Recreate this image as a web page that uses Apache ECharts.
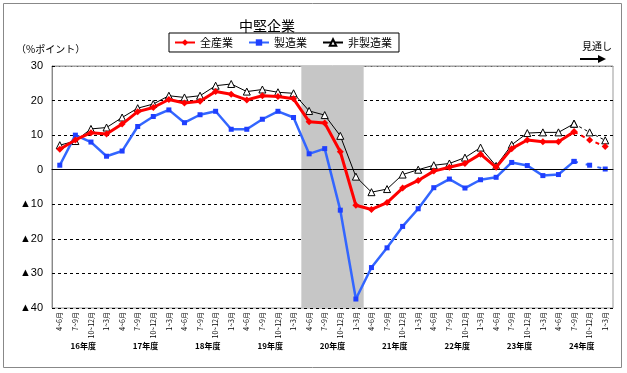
<!DOCTYPE html>
<html><head><meta charset="utf-8">
<script src="https://cdn.jsdelivr.net/npm/echarts@6/dist/echarts.min.js"></script>
<style>html,body{margin:0;padding:0;background:#fff}#c{width:627px;height:373px}</style>
</head><body><div id="c"></div>
<script>
var quarters = [];
var qNames = ["4~6月","7~9月","10~12月","1~3月"];
var years = ["16年度","17年度","18年度","19年度","20年度","21年度","22年度","23年度","24年度"];
years.forEach(function(){ qNames.forEach(function(q){ quarters.push(q); }); });

var allInd = [5.9, 8.6, 10.7, 10.3, 13.2, 16.8, 18.0, 20.3, 19.3, 19.8, 22.6, 21.8, 20.2, 21.4, 21.2, 20.5, 13.9, 13.5, 5.2, -10.3, -11.5, -9.5, -5.3, -3.1, -0.4, 0.7, 1.8, 4.5, 0.7, 6.1, 8.6, 8.1, 8.1, 11.0];
var mfg = [1.3, 10.0, 8.0, 3.9, 5.4, 12.5, 15.4, 17.3, 13.6, 15.9, 16.9, 11.7, 11.7, 14.6, 16.9, 15.1, 4.6, 6.1, -11.7, -37.4, -28.3, -22.6, -16.4, -11.3, -5.2, -2.7, -5.3, -2.9, -2.2, 2.1, 1.2, -1.7, -1.4, 2.4];
var nonMfg = [7.1, 8.3, 11.8, 12.2, 15.1, 17.8, 19.0, 21.4, 20.9, 21.4, 24.3, 24.8, 22.6, 23.2, 22.4, 22.1, 17.0, 15.8, 9.8, -2.0, -6.5, -5.6, -1.4, 0.0, 1.3, 1.8, 3.5, 6.4, 1.1, 7.2, 10.6, 10.8, 10.8, 13.3];
// forecast (見通し): last actual point followed by two outlook points
var allFcst = [11.0, 8.6, 6.7];
var mfgFcst = [2.4, 1.3, 0.2];
var nonMfgFcst = [13.3, 10.8, 8.5];
var fcstStart = 33;
var shadeYears = ["20年度"];
var yMin = -40, yMax = 30;

function pad(arr){ var a = []; for (var i=0;i<fcstStart;i++) a.push(null); return a.concat(arr); }
var shadeUp = years.map(function(y){ return shadeYears.indexOf(y) >= 0 ? yMax : null; });
var shadeDown = years.map(function(y){ return shadeYears.indexOf(y) >= 0 ? yMin : null; });

var FONT = '"Liberation Sans", Arial, "Noto Sans CJK JP", sans-serif';
var JFONT = '"Noto Sans CJK JP", sans-serif';
var chart = echarts.init(document.getElementById('c'));
chart.setOption({
  animation: false,
  backgroundColor: '#fff',
  title: { text: '中堅企業', left: 262, top: 14, textAlign: 'center',
    textStyle: { fontFamily: JFONT, fontSize: 14, fontWeight: 'normal', color: '#000' } },
  legend: {
    data: ['全産業','製造業','非製造業'],
    left: 169, top: 33, padding: [4, 7, 4, 5],
    borderColor: '#000', borderWidth: 1, itemGap: 15,
    itemWidth: 20, itemHeight: 8,
    textStyle: { fontFamily: JFONT, fontSize: 11, color: '#000' }
  },
  grid: { left: 52, right: 14, top: 66, bottom: 65, show: true, borderColor: '#999', borderWidth: 1 },
  graphic: [
    { type: 'rect', shape: { x: 3.5, y: 3.5, width: 618, height: 364 }, style: { fill: 'none', stroke: '#888', lineWidth: 1 } },
    { type: 'text', left: 16, top: 44, style: { text: '（%ポイント）', fontFamily: JFONT, fontSize: 10, fill: '#000' } },
    { type: 'text', left: 582, top: 41, style: { text: '見通し', fontFamily: JFONT, fontSize: 10, fill: '#000' } },
    { type: 'line', shape: { x1: 580, y1: 59, x2: 600, y2: 59 }, style: { stroke: '#000', lineWidth: 2 } },
    { type: 'polygon', shape: { points: [[598, 55], [606, 59], [598, 63]] }, style: { fill: '#000' } }
  ],
  xAxis: [
    { type: 'category', data: quarters, boundaryGap: true, position: 'bottom',
      axisLine: { lineStyle: { color: '#000', width: 1 } },
      axisTick: { interval: 0, length: 29, lineStyle: { color: '#888' } },
      axisLabel: { interval: 0, rotate: 90, fontSize: 7, margin: 4, color: '#000', fontFamily: JFONT },
      splitLine: { show: false } },
    { type: 'category', data: years, boundaryGap: true, position: 'bottom',
      axisLine: { show: false },
      axisTick: { interval: 0, length: 47, lineStyle: { color: '#000' } },
      axisLabel: { interval: 0, fontSize: 8, margin: 34, color: '#000', fontFamily: JFONT, fontWeight: 'bold' },
      splitLine: { show: false } },
    { type: 'category', data: quarters, boundaryGap: true, position: 'top',
      axisLine: { lineStyle: { color: '#999', type: 'dotted' } },
      axisTick: { inside: true, interval: 0, length: 3, lineStyle: { color: '#999' } },
      axisLabel: { show: false } }
  ],
  yAxis: {
    type: 'value', min: yMin, max: yMax, interval: 10,
    axisLine: { show: true, lineStyle: { color: '#888' } },
    axisTick: { show: true, inside: true, length: 3, lineStyle: { color: '#000' } },
    axisLabel: { fontFamily: FONT, fontSize: 11, color: '#000', margin: 9,
      formatter: function(v){ return v < 0 ? '▲' + Math.abs(v) : String(v); } },
    splitLine: { show: true, lineStyle: { color: '#000', type: [3, 3], width: 1 } }
  },
  series: [
    { type: 'bar', xAxisIndex: 1, data: shadeUp, stack: 'sh', barWidth: '100%', silent: true,
      itemStyle: { color: '#c6c6c6' }, z: 1 },
    { type: 'bar', xAxisIndex: 1, data: shadeDown, stack: 'sh', barWidth: '100%', silent: true,
      itemStyle: { color: '#c6c6c6' }, z: 1 },
    { name: '非製造業', type: 'line', data: nonMfg, symbol: 'triangle', symbolSize: 7,
      lineStyle: { color: '#000', width: 1 }, itemStyle: { color: '#fff', borderColor: '#000', borderWidth: 1 }, z: 3,
      markLine: { silent: true, symbol: 'none', label: { show: false },
        lineStyle: { color: '#000', type: 'solid', width: 1 }, data: [{ yAxis: 0 }] } },
    { name: '製造業', type: 'line', data: mfg, symbol: 'rect', symbolSize: 5,
      lineStyle: { color: '#3366ff', width: 2.5 }, itemStyle: { color: '#1f3fff' }, z: 4 },
    { name: '全産業', type: 'line', data: allInd, symbol: 'diamond', symbolSize: 7,
      lineStyle: { color: '#ff0000', width: 3 }, itemStyle: { color: '#ff0000' }, z: 5 },
    { name: '非製造業見通し', type: 'line', data: pad(nonMfgFcst), symbol: 'triangle', symbolSize: 7,
      lineStyle: { color: '#000', width: 1, type: [3, 3] }, itemStyle: { color: '#fff', borderColor: '#000', borderWidth: 1 }, z: 3 },
    { name: '製造業見通し', type: 'line', data: pad(mfgFcst), symbol: 'rect', symbolSize: 5,
      lineStyle: { color: '#3366ff', width: 2, type: [4, 8] }, itemStyle: { color: '#1f3fff' }, z: 4 },
    { name: '全産業見通し', type: 'line', data: pad(allFcst), symbol: 'diamond', symbolSize: 7,
      lineStyle: { color: '#ff0000', width: 2, type: [4, 4] }, itemStyle: { color: '#ff0000' }, z: 5 }
  ]
});
</script></body></html>
